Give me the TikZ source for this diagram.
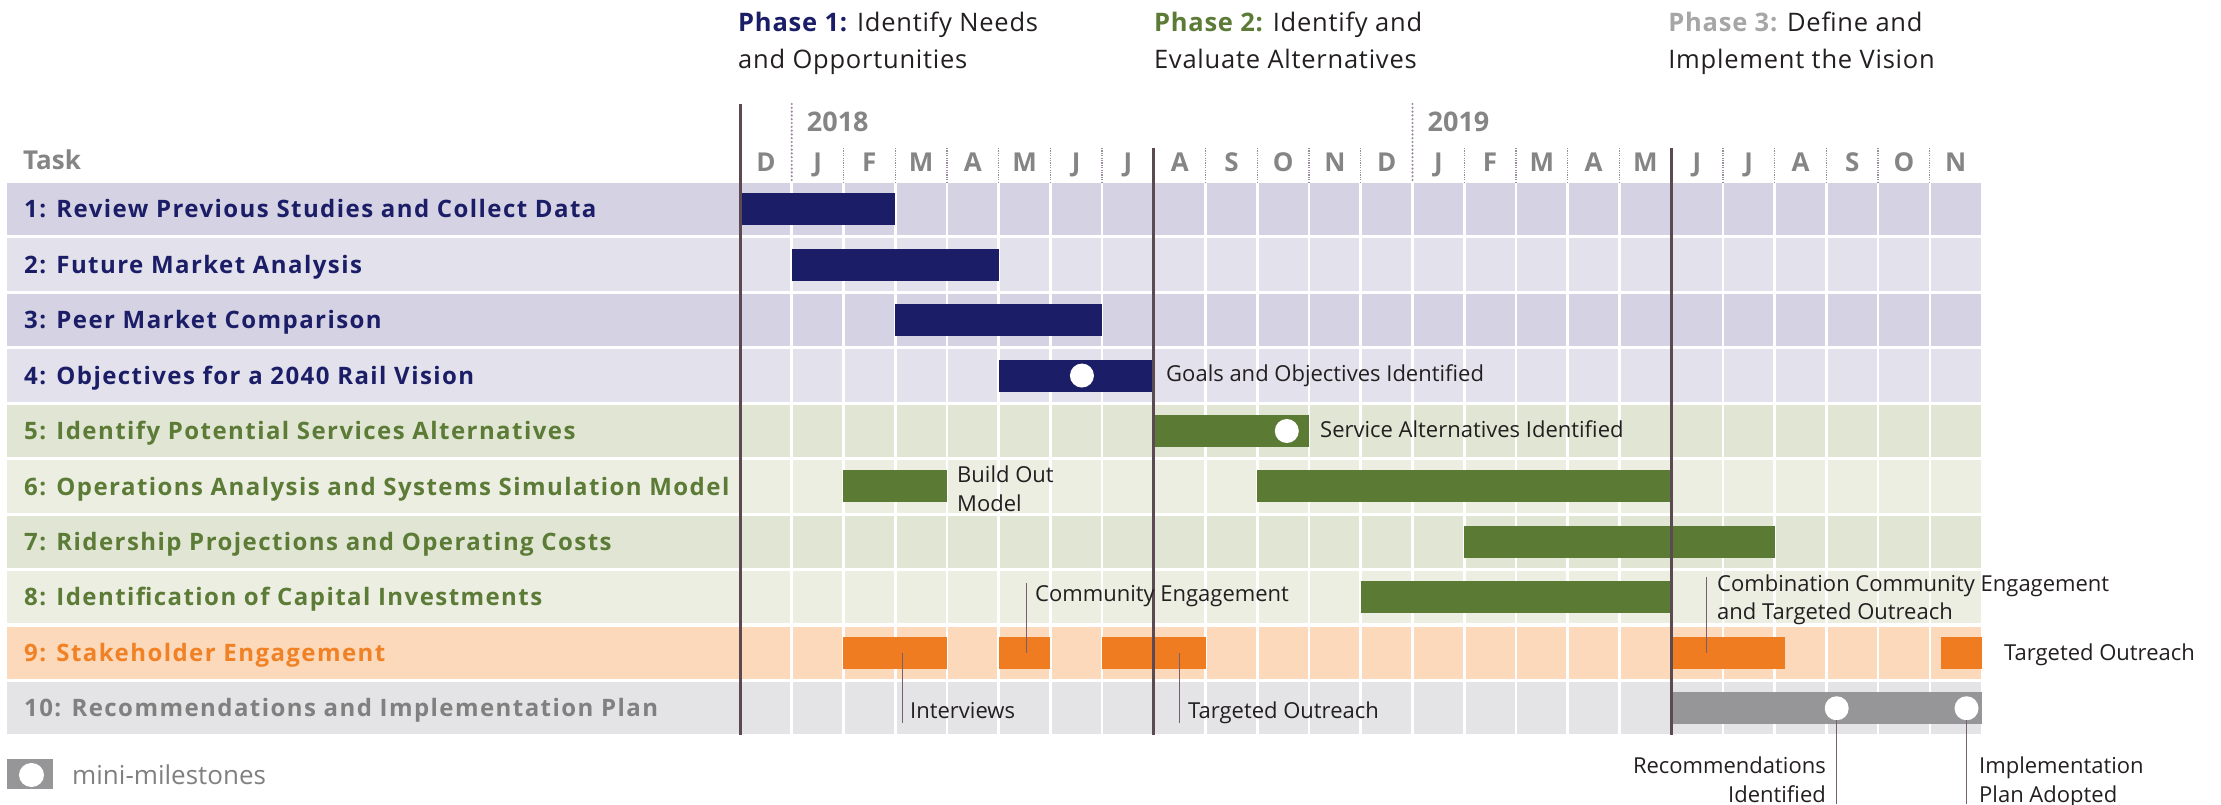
\documentclass[tikz,border=0pt]{standalone}
\usepackage{fontspec}
\setmainfont{Open Sans}

% palette
\definecolor{navy}{HTML}{1B1E67}
\definecolor{leaf}{HTML}{5B7A34}
\definecolor{tang}{HTML}{F07C22}
\definecolor{ash}{HTML}{969598}
\definecolor{lavA}{HTML}{D5D2E4}
\definecolor{lavB}{HTML}{E2E1EC}
\definecolor{sageA}{HTML}{E0E6D3}
\definecolor{sageB}{HTML}{EBEEE1}
\definecolor{peach}{HTML}{FDD9BB}
\definecolor{mist}{HTML}{E4E4E6}
\definecolor{rulec}{HTML}{5C4A52}
\definecolor{dotc}{HTML}{9C8A9E}
\definecolor{headgrey}{HTML}{858585}
\definecolor{ink}{HTML}{231F20}
\definecolor{leadc}{HTML}{75606F}
\definecolor{labgreen}{HTML}{5C7B36}
\definecolor{laborange}{HTML}{F08124}
\definecolor{labgrey}{HTML}{808080}
\definecolor{phgrey}{HTML}{A6A6A6}

% month grid: column k starts at \colx{k}; row r is centred on \rowy{r}
\newcommand\colx[1]{740+(#1)*51.73}
\newcommand\rowy[1]{209.2+((#1)-1)*55.45}
\newcommand\taskbar[4]{\fill[#1] ({\colx{#2}},{\rowy{#4}-16}) rectangle ({\colx{#3}},{\rowy{#4}+16});}
\newcommand\milestone[2]{\fill[white] ({\colx{#1}},{\rowy{#2}}) circle[radius=12];}

\newcommand\taskfont{\fontsize{24}{24}\selectfont\bfseries\addfontfeature{LetterSpace=6}}
\newcommand\notefont{\fontsize{22}{22}\selectfont}
\newcommand\monthfont{\fontsize{26}{26}\selectfont\bfseries}
\newcommand\phasefont{\fontsize{25.5}{25.5}\selectfont\addfontfeature{LetterSpace=3}}

\tikzset{
  tasklabel/.style={anchor=west, inner sep=0pt, text height=17.1pt, text depth=0pt, font=\taskfont},
  note/.style={anchor=west, inner sep=0pt, text height=15.7pt, text depth=0pt, font=\notefont, text=ink},
  noteright/.style={note, anchor=east},
  month/.style={inner sep=0pt, text height=18.6pt, text depth=0pt, font=\monthfont, text=headgrey},
  yearlabel/.style={anchor=west, inner sep=0pt, text height=19.3pt, text depth=0pt, font=\fontsize{27}{27}\selectfont\bfseries, text=headgrey},
  phasehead/.style={anchor=west, inner sep=0pt, text height=18.2pt, text depth=0pt, font=\phasefont, text=ink},
  leader/.style={draw=leadc, line width=1pt},
  phaserule/.style={draw=rulec, line width=3pt},
}

\begin{document}
\begin{tikzpicture}[x=1pt,y=-1pt]
\useasboundingbox (0,0) rectangle (2221,805);

% row bands
\foreach \i/\c in {1/lavA,2/lavB,3/lavA,4/lavB,5/sageA,6/sageB,7/sageA,8/sageB,9/peach,10/mist}{
  \fill[\c] (7,{\rowy{\i}-26.2}) rectangle (1981,{\rowy{\i}+26.1});
}
% white month dividers through the bands
\foreach \k in {1,...,23}{
  \draw[white, line width=2.6pt] ({\colx{\k}},182) -- ({\colx{\k}},736);
}
% dotted month separators in the header
\foreach \k in {2,...,7,9,10,11,12,14,15,16,17,19,20,21,22,23}{
  \draw[dotc, line width=1.3pt, dash pattern=on 1.2pt off 1.2pt] ({\colx{\k}},148) -- ({\colx{\k}},182);
}
% year boundaries
\foreach \k in {1,13}{
  \draw[dotc, line width=2.4pt, line cap=round, dash pattern=on 0pt off 3.8pt] ({\colx{\k}},104) -- ({\colx{\k}},182);
}

% month letters
\foreach \m [count=\k from 0] in {D,J,F,M,A,M,J,J,A,S,O,N,D,J,F,M,A,M,J,J,A,S,O,N}{
  \node[month] (mon\k) at ({\colx{\k+0.5}},162) {\m};
}
\node[yearlabel] (y2018) at ({\colx{1}+15},122) {2018};
\node[yearlabel] (y2019) at ({\colx{13}+15},122) {2019};
\node[anchor=west, inner sep=0pt, text height=18.6pt, text depth=0pt, font=\monthfont, text=headgrey] (taskhead) at (23,160) {Task};

% task names
\node[tasklabel, text=navy] (t1) at (24,{\rowy{1}}) {1: Review Previous Studies and Collect Data};
\node[tasklabel, text=navy] (t2) at (24,{\rowy{2}}) {2: Future Market Analysis};
\node[tasklabel, text=navy] (t3) at (24,{\rowy{3}}) {3: Peer Market Comparison};
\node[tasklabel, text=navy] (t4) at (24,{\rowy{4}}) {4: Objectives for a 2040 Rail Vision};
\node[tasklabel, text=labgreen] (t5) at (24,{\rowy{5}}) {5: Identify Potential Services Alternatives};
\node[tasklabel, text=labgreen] (t6) at (24,{\rowy{6}}) {6: Operations Analysis and Systems Simulation Model};
\node[tasklabel, text=labgreen] (t7) at (24,{\rowy{7}}) {7: Ridership Projections and Operating Costs};
\node[tasklabel, text=labgreen] (t8) at (24,{\rowy{8}}) {8: Identification of Capital Investments};
\node[tasklabel, text=laborange] (t9) at (24,{\rowy{9}}) {9: Stakeholder Engagement};
\node[tasklabel, text=labgrey] (t10) at (24,{\rowy{10}}) {10: Recommendations and Implementation Plan};

% schedule bars
\taskbar{navy}{0}{3}{1}
\taskbar{navy}{1}{5}{2}
\taskbar{navy}{3}{7}{3}
\taskbar{navy}{5}{8}{4}
\taskbar{leaf}{8}{11}{5}
\taskbar{leaf}{2}{4}{6}
\taskbar{leaf}{10}{18}{6}
\taskbar{leaf}{14}{20}{7}
\taskbar{leaf}{12}{18}{8}
\taskbar{tang}{2}{4}{9}
\taskbar{tang}{5}{6}{9}
\taskbar{tang}{7}{9}{9}
\taskbar{tang}{18}{20.2}{9}
\taskbar{tang}{23.22}{24}{9}
\taskbar{ash}{18}{24}{10}

% mini-milestones
\milestone{6.61}{4}
\milestone{10.57}{5}
\milestone{21.2}{10}
\milestone{23.71}{10}

% phase boundaries
\draw[phaserule] ({\colx{0}},104) -- ({\colx{0}},735);
\draw[phaserule] ({\colx{8}},148) -- ({\colx{8}},735);
\draw[phaserule] ({\colx{18}},148) -- ({\colx{18}},735);

% phase headings
\node[phasehead] (ph1a) at ({\colx{0}-2},22.5) {\textcolor{navy}{\bfseries Phase 1:} Identify Needs};
\node[phasehead] (ph1b) at ({\colx{0}-2},59) {and Opportunities};
\node[phasehead] (ph2a) at ({\colx{8}},22.5) {\textcolor{labgreen}{\bfseries Phase 2:} Identify and};
\node[phasehead] (ph2b) at ({\colx{8}},59) {Evaluate Alternatives};
\node[phasehead] (ph3a) at ({\colx{18}-3},22.5) {\textcolor{phgrey}{\bfseries Phase 3:} Define and};
\node[phasehead] (ph3b) at ({\colx{18}-3},59) {Implement the Vision};

% annotations beside bars
\node[note] (goals) at (1166,{\rowy{4}-2}) {Goals and Objectives Identified};
\node[note] (svc) at (1320,{\rowy{5}-1}) {Service Alternatives Identified};
\node[note] (bo1) at (957,475) {Build Out};
\node[note] (bo2) at (957,504) {Model};
\node[note] (outr) at (2004,{\rowy{9}}) {Targeted Outreach};

% leader-line annotations for stakeholder engagement
\node[note] (interv) at (910,711) {Interviews};
\coordinate (ivA) at (902,{\rowy{9}});
\coordinate (ivB) at (902,723);
\draw[leader] (ivA) -- (ivB);

\node[note] (comm) at (1035,594) {Community Engagement};
\coordinate (cmA) at (1026,583);
\coordinate (cmB) at (1026,{\rowy{9}});
\draw[leader] (cmA) -- (cmB);

\node[note] (outr2) at (1188,711) {Targeted Outreach};
\coordinate (toA) at (1179,{\rowy{9}});
\coordinate (toB) at (1179,723);
\draw[leader] (toA) -- (toB);

\node[note] (combo1) at (1717,584) {Combination Community Engagement};
\node[note] (combo2) at (1717,612) {and Targeted Outreach};
\coordinate (cbA) at (1706,577);
\coordinate (cbB) at (1706,{\rowy{9}});
\draw[leader] (cbA) -- (cbB);

% leader-line annotations for the final milestones
\node[noteright] (rec1) at (1826,766) {Recommendations};
\node[noteright] (rec2) at (1826,795) {Identified};
\coordinate (rcA) at ({\colx{21.2}},{\rowy{10}+12});
\coordinate (rcB) at ({\colx{21.2}},804);
\draw[leader] (rcA) -- (rcB);

\node[note] (imp1) at (1979,766) {Implementation};
\node[note] (imp2) at (1979,795) {Plan Adopted};
\coordinate (ipA) at ({\colx{23.71}},{\rowy{10}+12});
\coordinate (ipB) at ({\colx{23.71}},804);
\draw[leader] (ipA) -- (ipB);

% legend
\fill[ash] (7,759) rectangle (53,789);
\fill[white] (31.5,775) ellipse[x radius=12.5, y radius=12];
\node[anchor=west, inner sep=0pt, text height=18.6pt, text depth=0pt, font=\fontsize{26}{26}\selectfont, text=labgrey] (legend) at (72,775) {mini-milestones};
\end{tikzpicture}
\end{document}
